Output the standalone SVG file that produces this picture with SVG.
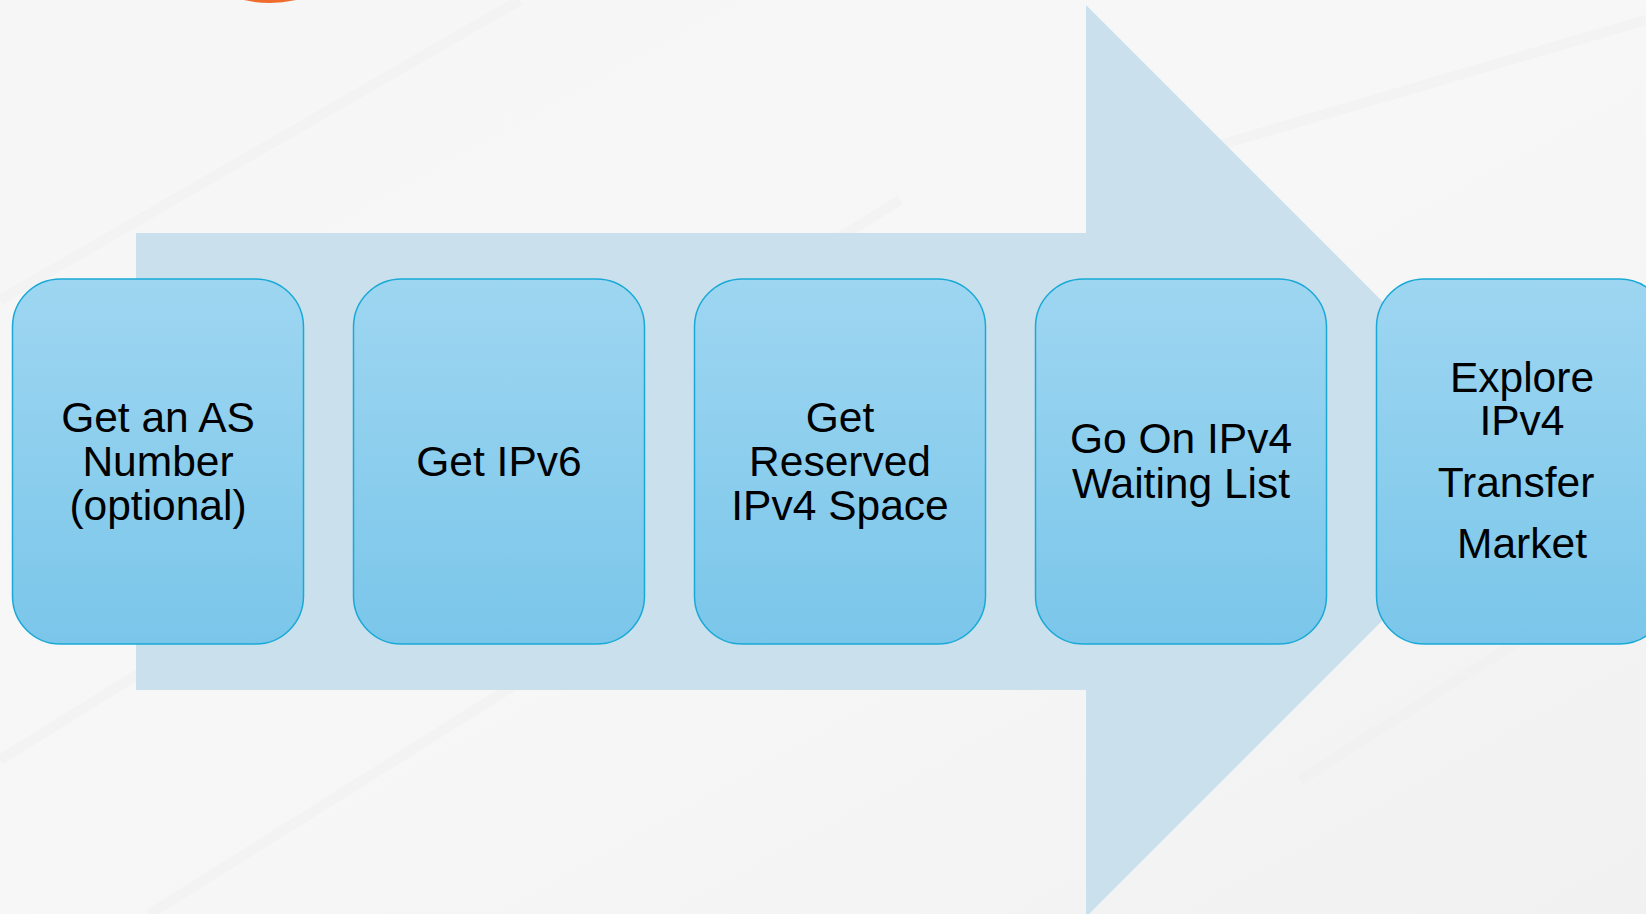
<svg xmlns="http://www.w3.org/2000/svg" width="1646" height="914" viewBox="0 0 1646 914">
<defs>
<linearGradient id="bg" x1="0" y1="0" x2="1" y2="1">
<stop offset="0" stop-color="#f6f6f6"/>
<stop offset="0.5" stop-color="#f7f7f7"/>
<stop offset="1" stop-color="#f1f1f1"/>
</linearGradient>
<linearGradient id="box" x1="0" y1="0" x2="0" y2="1">
<stop offset="0" stop-color="#9ed6f1"/>
<stop offset="1" stop-color="#7ac6ea"/>
</linearGradient>
<style>
.node rect{fill:url(#box);stroke:#19a9d6;stroke-width:1.5}
.node text{font-family:"Liberation Sans",Arial,sans-serif;font-size:42.5px;fill:#000;text-anchor:middle}
.streak{stroke:#efefef;stroke-width:10;fill:none;opacity:0.5}
</style>
</defs>
<rect width="1646" height="914" fill="url(#bg)"/>
<g id="background-streaks">
<path class="streak" d="M0 300 L520 0"/>
<path class="streak" d="M0 760 L900 200"/>
<path class="streak" d="M150 914 L1000 380"/>
<path class="streak" d="M1100 180 L1646 20"/>
<path class="streak" d="M1300 780 L1646 560"/>
</g>
<ellipse id="orange-arc" cx="270" cy="-32" rx="64" ry="35" fill="#f06c2d"/>
<g id="connectors">
<polygon id="big-arrow" points="136,233 1086,233 1086,5 1542,461 1086,917 1086,690 136,690" fill="#cbe0ed"/>
</g>
<g id="node1" class="node">
<rect x="12.5" y="279" width="291" height="365" rx="48" ry="48"/>
<text x="158" y="432">Get an AS</text>
<text x="158" y="476">Number</text>
<text x="158" y="520">(optional)</text>
</g>
<g id="node2" class="node">
<rect x="353.5" y="279" width="291" height="365" rx="48" ry="48"/>
<text x="499" y="476">Get IPv6</text>
</g>
<g id="node3" class="node">
<rect x="694.5" y="279" width="291" height="365" rx="48" ry="48"/>
<text x="840" y="432">Get</text>
<text x="840" y="476">Reserved</text>
<text x="840" y="520">IPv4 Space</text>
</g>
<g id="node4" class="node">
<rect x="1035.5" y="279" width="291" height="365" rx="48" ry="48"/>
<text x="1181" y="453">Go On IPv4</text>
<text x="1181" y="498">Waiting List</text>
</g>
<g id="node5" class="node">
<rect x="1376.5" y="279" width="291" height="365" rx="48" ry="48"/>
<text x="1522" y="392">Explore</text>
<text x="1522" y="435">IPv4</text>
<text x="1516" y="497">Transfer</text>
<text x="1522" y="558">Market</text>
</g>
</svg>
